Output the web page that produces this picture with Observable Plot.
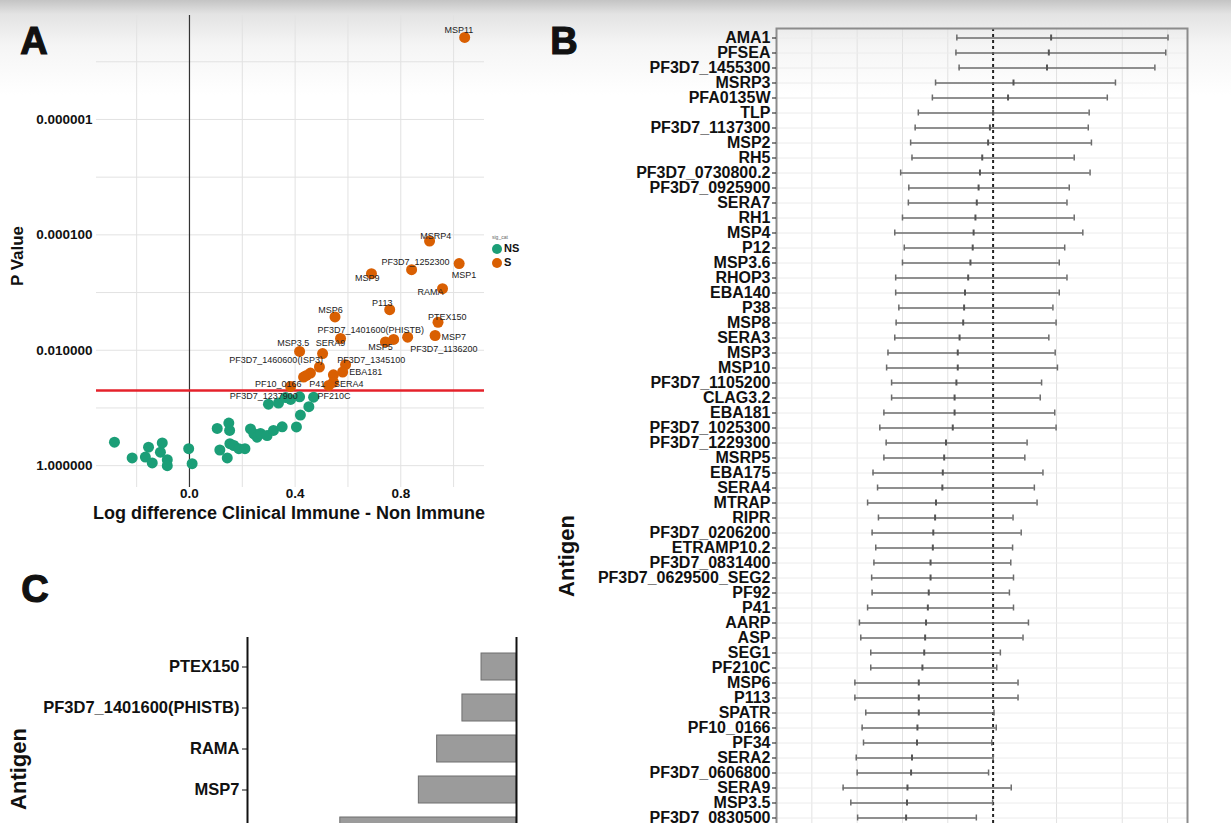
<!DOCTYPE html>
<html><head><meta charset="utf-8">
<script src="https://cdn.jsdelivr.net/npm/d3@7"></script>
<script src="https://cdn.jsdelivr.net/npm/@observablehq/plot@0.6"></script>
<style>
html,body{margin:0;padding:0;width:1231px;height:823px;overflow:hidden;}
body{position:relative;background:linear-gradient(#c4c4c4 0px,#e3e3e3 14px,#f5f5f5 45px,#ffffff 95px);font-family:"Liberation Sans",Arial,sans-serif;color:#111;}
.abs{position:absolute;}
.letter{font-weight:bold;font-size:38px;line-height:1;-webkit-text-stroke:1.2px #111;transform:translate(-50%,-50%);}
.ytitle{font-weight:bold;white-space:nowrap;line-height:1;transform:translate(-50%,-50%) rotate(-90deg);}
.xtitle{font-weight:bold;white-space:nowrap;line-height:1;transform:translate(-50%,-50%);}
.leg{font-size:11px;font-weight:bold;line-height:1;display:flex;align-items:center;gap:2px;}
.leg i{display:inline-block;width:10px;height:10px;border-radius:50%;}
svg{overflow:visible;}
</style>
</head><body>
<div id="pA" class="abs" style="left:0;top:0;"></div>
<div id="pB" class="abs" style="left:540px;top:0;"></div>
<div id="pC" class="abs" style="left:0;top:620px;"></div>

<div class="abs letter" style="left:34px;top:41px;">A</div>
<div class="abs letter" style="left:564px;top:41px;">B</div>
<div class="abs letter" style="left:35px;top:589px;">C</div>

<div class="abs ytitle" style="left:17px;top:256px;font-size:17px;">P Value</div>
<div class="abs xtitle" style="left:289px;top:513px;font-size:18px;">Log difference Clinical Immune - Non Immune</div>
<div class="abs ytitle" style="left:567px;top:556px;font-size:22px;">Antigen</div>
<div class="abs ytitle" style="left:19px;top:769px;font-size:22px;">Antigen</div>

<div id="legA" class="abs" style="left:492px;top:234px;"></div>

<script>
// ---------- Panel A: volcano plot ----------
const volcanoLogDiff = [
  -0.284,-0.217,-0.167,-0.155,-0.141,-0.110,-0.103,-0.084,-0.084,-0.003,0.010,
  0.105,0.149,0.152,0.115,0.143,0.153,0.168,0.187,0.210,0.231,0.244,0.256,0.269,
  0.294,0.318,0.351,0.405,0.420,0.452,0.299,0.337,0.383,0.417,0.470,0.364,
  1.042,0.909,0.841,1.021,0.689,0.958,0.758,0.551,0.941,0.930,0.826,0.773,0.742,
  0.572,0.417,0.504,0.591,0.580,0.492,0.458,0.443,0.432,0.545,0.545,0.527,0.383
];
const volcanoP = [
  0.392,0.735,0.711,0.478,0.897,0.583,0.404,0.79,1.0,0.507,0.923,
  0.226,0.183,0.245,0.535,0.735,0.416,0.447,0.507,0.507,0.231,0.280,0.321,0.277,
  0.30,0.245,0.212,0.213,0.133,0.095,0.086,0.082,0.071,0.064,0.065,0.066,
  3.79e-8,1.28e-4,4.01e-4,3.15e-4,4.72e-4,8.55e-4,1.98e-3,2.65e-3,3.27e-3,5.55e-3,5.93e-3,6.50e-3,7.18e-3,
  6.24e-3,0.0105,0.0114,0.0178,0.0238,0.0195,0.0249,0.0273,0.0292,0.0266,0.0357,0.0407,0.0424
];
const volcanoSig = volcanoP.map(p => p < 0.05 ? "S" : "NS");
const sigCategories = ["NS","S"];
const sigColors = ["#1b9e77","#d95f02"];
const pThreshold = 0.05;

const labelText = ["MSP11","MSRP4","PF3D7_1252300","MSP1","MSP9","RAMA","P113","MSP6","PTEX150",
  "PF3D7_1401600(PHISTB)","MSP7","MSP3.5","SERA9","MSP5","PF3D7_1136200","PF3D7_1460600(ISP3)",
  "PF3D7_1345100","EBA181","PF10_0166","P41","SERA4","PF3D7_1237900","PF210C"];
const labelLogDiff = [1.020,0.932,0.856,1.039,0.673,0.913,0.730,0.534,0.976,
  0.686,1.001,0.393,0.534,0.723,0.963,0.328,0.688,0.667,0.336,0.484,0.603,0.281,0.547];
const labelP = [2.79e-8,1.07e-4,2.97e-4,5.06e-4,5.62e-4,9.84e-4,1.50e-3,2.04e-3,2.67e-3,
  4.42e-3,5.93e-3,7.53e-3,7.53e-3,8.83e-3,9.68e-3,0.0146,0.0146,0.0240,0.0381,0.0381,0.0381,0.0632,0.0632];

const xTicksA = [0, 0.4, 0.8];
const xGridA = [-0.2, 0, 0.2, 0.4, 0.6, 0.8, 1.0];
const pTicksA = [1e-6, 1e-4, 1e-2, 1];
const pGridA = [1e-7,1e-6,1e-5,1e-4,1e-3,1e-2,1e-1,1];

const volcano = volcanoLogDiff.map((x, i) => ({x, p: volcanoP[i], sig: volcanoSig[i]}));
const volcanoLabels = labelText.map((t, i) => ({t, x: labelLogDiff[i], p: labelP[i]}));

const plotA = Plot.plot({
  width: 540, height: 530,
  marginLeft: 96, marginRight: 56, marginTop: 15, marginBottom: 43,
  style: {background: "transparent", fontFamily: "Liberation Sans, Arial, sans-serif", color: "#111"},
  x: {domain: [-0.352, 1.117]},
  y: {type: "log", domain: [2.39, 1.58e-8]},
  color: {domain: sigCategories, range: sigColors},
  marks: [
    Plot.gridX({ticks: xGridA, stroke: "#e2e2e2", strokeOpacity: 1}),
    Plot.gridY({ticks: pGridA, stroke: "#e2e2e2", strokeOpacity: 1}),
    Plot.axisY({ticks: pTicksA, tickFormat: d3.format(".6f"), tickSize: 0, tickPadding: 4, fontSize: 13.5, fontWeight: "bold", label: null}),
    Plot.axisX({ticks: xTicksA, tickFormat: d3.format(".1f"), tickSize: 0, tickPadding: 1, fontSize: 13.5, fontWeight: "bold", label: null}),
    Plot.ruleX([0], {stroke: "#333", strokeWidth: 1.2}),
    Plot.ruleY([pThreshold], {stroke: "#e5222b", strokeWidth: 2.5}),
    Plot.dot(volcano, {x: "x", y: "p", fill: "sig", r: 5.5}),
    Plot.text(volcanoLabels, {x: "x", y: "p", text: "t", fontSize: 9, fill: "#222"})
  ]
});
document.getElementById("pA").append(plotA);

// legend
const legA = document.getElementById("legA");
legA.innerHTML = '<div style="font-size:5px;color:#666;margin-bottom:3px;">sig_cat</div>' +
  sigCategories.map((c, i) => `<div class="leg" style="margin-bottom:3px;"><i style="background:${sigColors[i]}"></i>${c}</div>`).join("");

// ---------- Panel B: forest plot ----------
const forestNames = ["AMA1","PFSEA","PF3D7_1455300","MSRP3","PFA0135W","TLP","PF3D7_1137300","MSP2","RH5",
  "PF3D7_0730800.2","PF3D7_0925900","SERA7","RH1","MSP4","P12","MSP3.6","RHOP3","EBA140","P38","MSP8",
  "SERA3","MSP3","MSP10","PF3D7_1105200","CLAG3.2","EBA181","PF3D7_1025300","PF3D7_1229300","MSRP5",
  "EBA175","SERA4","MTRAP","RIPR","PF3D7_0206200","ETRAMP10.2","PF3D7_0831400","PF3D7_0629500_SEG2",
  "PF92","P41","AARP","ASP","SEG1","PF210C","MSP6","P113","SPATR","PF10_0166","PF34","SERA2",
  "PF3D7_0606800","SERA9","MSP3.5","PF3D7_0830500"];
const forestLo = [-0.080,-0.082,-0.075,-0.127,-0.134,-0.165,-0.172,-0.182,-0.179,-0.204,-0.186,-0.187,-0.200,
  -0.217,-0.196,-0.200,-0.215,-0.215,-0.208,-0.214,-0.217,-0.232,-0.235,-0.224,-0.224,-0.241,-0.250,-0.236,
  -0.241,-0.265,-0.255,-0.277,-0.253,-0.267,-0.259,-0.263,-0.268,-0.267,-0.277,-0.295,-0.292,-0.270,-0.270,
  -0.305,-0.305,-0.281,-0.289,-0.286,-0.302,-0.300,-0.331,-0.314,-0.299];
const forestEst = [0.128,0.123,0.119,0.045,0.033,0.000,-0.007,-0.011,-0.024,-0.029,-0.032,-0.036,-0.039,
  -0.043,-0.045,-0.050,-0.055,-0.062,-0.064,-0.066,-0.074,-0.078,-0.078,-0.081,-0.085,-0.085,-0.089,-0.104,
  -0.108,-0.111,-0.112,-0.126,-0.128,-0.132,-0.133,-0.138,-0.138,-0.142,-0.144,-0.148,-0.150,-0.152,-0.156,
  -0.164,-0.164,-0.164,-0.167,-0.168,-0.179,-0.181,-0.189,-0.190,-0.192];
const forestHi = [0.386,0.381,0.357,0.270,0.252,0.212,0.210,0.217,0.179,0.214,0.168,0.163,0.179,
  0.198,0.158,0.146,0.163,0.146,0.132,0.139,0.123,0.137,0.142,0.107,0.104,0.136,0.139,0.075,
  0.070,0.110,0.091,0.097,0.044,0.062,0.043,0.039,0.045,0.036,0.045,0.078,0.066,0.016,0.008,
  0.055,0.055,0.002,0.007,-0.003,0.000,-0.010,0.040,-0.001,-0.037];
const forestGrid = [-0.4,-0.3,-0.2,-0.1,0.14,0.285,0.385];
const forestRef = 0;

const forest = forestNames.map((name, i) => ({name, lo: forestLo[i], est: forestEst[i], hi: forestHi[i]}));

const plotB = Plot.plot({
  width: 691, height: 1100,
  marginLeft: 236, marginRight: 44, marginTop: 28, marginBottom: 20,
  style: {background: "transparent", fontFamily: "Liberation Sans, Arial, sans-serif", color: "#111"},
  x: {domain: [-0.478, 0.429], axis: null},
  y: {type: "band", domain: forestNames, range: [29.5, 824.5], padding: 0},
  marks: [
    Plot.gridX({ticks: forestGrid, stroke: "#e2e2e2", strokeOpacity: 1}),
    Plot.gridY({stroke: "#ececec", strokeOpacity: 1}),
    Plot.ruleX([forestRef], {stroke: "#222", strokeWidth: 2, strokeDasharray: "3,3"}),
    Plot.ruleY(forest, {y: "name", x1: "lo", x2: "hi", stroke: "#6c6c6c", strokeWidth: 1.6}),
    Plot.tickX(forest, {x: "lo", y: "name", stroke: "#6c6c6c", strokeWidth: 1.5, insetTop: 4.5, insetBottom: 4.5}),
    Plot.tickX(forest, {x: "hi", y: "name", stroke: "#6c6c6c", strokeWidth: 1.5, insetTop: 4.5, insetBottom: 4.5}),
    Plot.tickX(forest, {x: "est", y: "name", stroke: "#555", strokeWidth: 2, insetTop: 4.5, insetBottom: 4.5}),
    Plot.frame({stroke: "#8c8c8c", strokeWidth: 2}),
    Plot.axisY({tickSize: 4, tickPadding: 2, fontSize: 16, fontWeight: "bold", label: null})
  ]
});
document.getElementById("pB").append(plotB);

// ---------- Panel C: bar chart ----------
const barNames = ["PTEX150","PF3D7_1401600(PHISTB)","RAMA","MSP7","MSP11"];
const barValues = [-0.130,-0.201,-0.295,-0.363,-0.655];
const barAxisLines = [-1, 0];
const bars = barNames.map((name, i) => ({name, value: barValues[i]}));

const plotC = Plot.plot({
  width: 540, height: 260,
  marginLeft: 247, marginRight: 24, marginTop: 17, marginBottom: 10,
  style: {background: "transparent", fontFamily: "Liberation Sans, Arial, sans-serif", color: "#111"},
  x: {domain: [-1, 0], axis: null},
  y: {type: "band", domain: barNames, range: [24.25, 231.75], paddingInner: 0.35, paddingOuter: 0.175},
  marks: [
    Plot.barX(bars, {x1: "value", x2: 0, y: "name", fill: "#9b9b9b", stroke: "#6f6f6f", strokeWidth: 1}),
    Plot.ruleX(barAxisLines, {stroke: "#111", strokeWidth: 2}),
    Plot.axisY({tickSize: 5, tickPadding: 3, fontSize: 16.5, fontWeight: "bold", label: null})
  ]
});
document.getElementById("pC").append(plotC);
</script>
</body></html>
